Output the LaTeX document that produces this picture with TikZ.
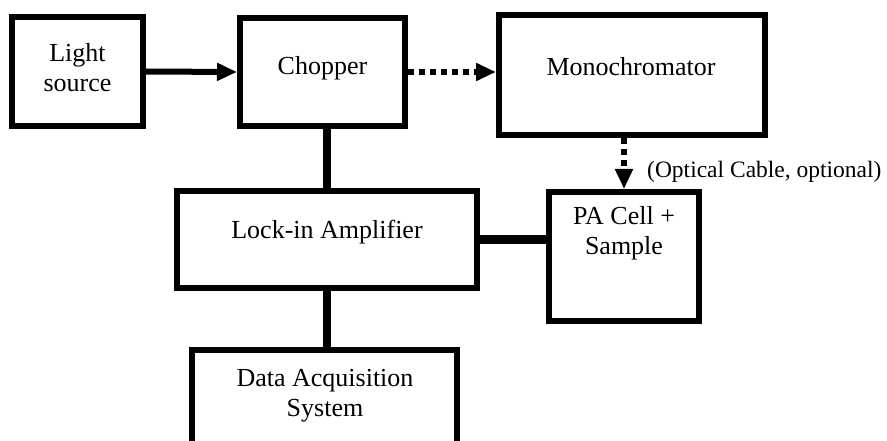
\documentclass[tikz,border=0pt]{standalone}
\usepackage{fontspec}
\setmainfont{Liberation Serif}
\usetikzlibrary{arrows.meta}

\begin{document}
\begin{tikzpicture}[
    x=1pt, y=-1pt,
    block/.style 2 args={rectangle, draw, line width=6pt, inner sep=0pt, minimum width=#1, minimum height=#2},
    caption/.style={font=\fontsize{26}{30}\selectfont, align=center, inner sep=0pt},
    link/.style={line width=8.5pt},
    arrow/.style={line width=6pt, -{Triangle[length=20pt, width=17pt]}},
    dots/.style={arrow, dash pattern=on 6pt off 5pt}
]
    \clip (0,0) rectangle (887,441);

    \node[block={131}{109}] (light) at (77.5,71.5) {};
    \node[block={165}{108}] (chopper) at (322.5,72) {};
    \node[block={266}{120}] (mono) at (632,75) {};
    \node[block={300}{97}] (lockin) at (327,239.5) {};
    \node[block={150}{129}] (pacell) at (624,256.5) {};
    \node[block={265}{115}] (daq) at (324.5,407.5) {};

    \node[caption] (light-text) at (77.5,68) {Light\\source};
    \node[caption] (chopper-text) at (322.5,68) {Chopper};
    \node[caption] (mono-text) at (631,67) {Monochromator};
    \node[caption] (lockin-text) at (327,232) {Lock-in Amplifier};
    \node[caption] (pacell-text) at (624,233.5) {PA Cell +\\Sample};
    \node[caption] (daq-text) at (325,395.5) {Data Acquisition\\System};
    \node[caption, font=\fontsize{23.5}{28}\selectfont, anchor=west] (cable) at (647,172) {(Optical Cable, optional)};

    \draw[arrow] (light.east) -- (chopper.west);
    \draw[dots] (chopper.east) -- (chopper.east -| mono.west);
    \draw[dots] (pacell.north |- mono.south) -- (pacell.north);
    \draw[link] (lockin.north) -- (lockin.north |- chopper.south);
    \draw[link] (lockin.east) -- (lockin.east -| pacell.west);
    \draw[link] (lockin.south) -- (lockin.south |- daq.north);
\end{tikzpicture}
\end{document}
